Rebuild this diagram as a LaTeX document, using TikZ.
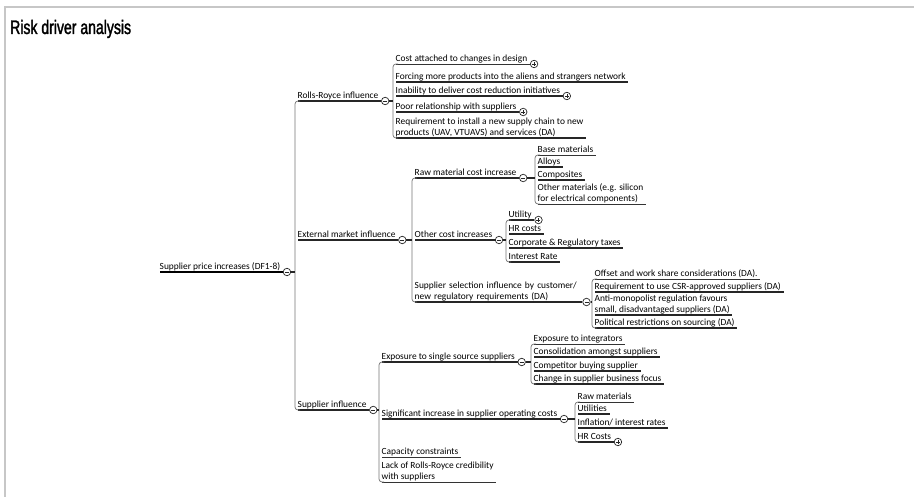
\documentclass[tikz,border=0pt]{standalone}
\usepackage{fontspec}
\newfontfamily\mapfont{Carlito}
\newfontfamily\titlefont[FakeStretch=0.72,FakeBold=1.6]{Liberation Sans}
\usetikzlibrary{calc}

\begin{document}
\begin{tikzpicture}[
    x=1pt, y=-1pt,
    topic/.style={anchor=south west, inner xsep=2.5pt, inner ysep=0pt, align=left, font=\mapfont\fontsize{9.4}{10.5}\selectfont, execute at end node={\vrule width 0pt height 0pt depth 2.6pt}},
    uline/.style={line width=1.1pt, draw=black!85},
    thinline/.style={line width=0.6pt, draw=black!80},
    rootline/.style={line width=1.5pt, draw=black},
    bracket/.style={line width=0.7pt, draw=black!55, rounded corners=3pt},
    link/.style={line width=1.1pt, draw=black!85},
    frame/.style={line width=2pt, draw=black!22},
    marker/.style={circle, draw=black!85, line width=0.7pt, fill=white, inner sep=0pt, minimum size=7.5pt, anchor=west},
    openmark/.style={marker, path picture={\draw[line width=0.6pt] ([xshift=-2pt]path picture bounding box.center) -- ([xshift=2pt]path picture bounding box.center);}},
    shutmark/.style={marker, path picture={\draw[line width=0.6pt] ([xshift=-2pt]path picture bounding box.center) -- ([xshift=2pt]path picture bounding box.center) ([yshift=-2pt]path picture bounding box.center) -- ([yshift=2pt]path picture bounding box.center);}},
]
\useasboundingbox (0,0) rectangle (914,497);
\draw[frame] (5,497) |- (914,7);
\node[anchor=base west, inner sep=0pt, font=\titlefont\fontsize{19.5}{20}\selectfont] (title) at (10,34) {Risk driver analysis};

% Central topic and its three branches
\node[topic] (root) at (157,272) {Supplier price increases (DF1-8)};
\node[topic] (rr)  at (295,101) {Rolls-Royce influence};
\node[topic] (ext) at (295,240) {External market influence};
\node[topic] (sup) at (295,410) {Supplier influence};

% Rolls-Royce influence
\node[topic] (design)      at (393,64)  {Cost attached to changes in design};
\node[topic] (aliens)      at (393,82)  {Forcing more products into the aliens and strangers network};
\node[topic] (initiatives) at (393,96)  {Inability to deliver cost reduction initiatives};
\node[topic] (relation)    at (393,112) {Poor relationship with suppliers};
\node[topic] (newchain)    at (393,138) {Requirement to install a new supply chain to new\\products (UAV, VTUAVS) and services (DA)};

% External market influence
\node[topic] (rawcost)   at (412,178) {Raw material cost increase};
\node[topic] (othercost) at (412,240) {Other cost increases};
\node[topic, text width=165pt] (selection) at (412,302) {Supplier selection influence by customer/\\new regulatory requirements (DA)};

\node[topic] (basemat)    at (535,155) {Base materials};
\node[topic] (alloys)     at (535,167) {Alloys};
\node[topic] (composites) at (535,180) {Composites};
\node[topic] (othermat)   at (535,204) {Other materials (e.g. silicon\\for electrical components)};

\node[topic] (utility)  at (506,220) {Utility};
\node[topic] (hrcosts)  at (506,234) {HR costs};
\node[topic] (taxes)    at (506,248) {Corporate \& Regulatory taxes};
\node[topic] (interest) at (506,262) {Interest Rate};

\node[topic] (offset)    at (592,279) {Offset and work share considerations (DA).};
\node[topic] (csr)       at (592,292) {Requirement to use CSR-approved suppliers (DA)};
\node[topic] (antimono)  at (592,315) {Anti-monopolist regulation favours\\small, disadvantaged suppliers (DA)};
\node[topic] (political) at (592,328) {Political restrictions on sourcing (DA)};

% Supplier influence
\node[topic] (single)      at (379,362) {Exposure to single source suppliers};
\node[topic] (opcosts)     at (379,419) {Significant increase in supplier operating costs};
\node[topic] (capacity)    at (379,457) {Capacity constraints};
\node[topic] (credibility) at (379,482) {Lack of Rolls-Royce credibility\\with suppliers};

\node[topic] (integrators)   at (531,344) {Exposure to integrators};
\node[topic] (consolidation) at (531,357) {Consolidation amongst suppliers};
\node[topic] (competitor)    at (531,371) {Competitor buying supplier};
\node[topic] (focus)         at (531,384) {Change in supplier business focus};

\node[topic] (rawmat)     at (575,402) {Raw materials};
\node[topic] (utilities)  at (575,414) {Utilities};
\node[topic] (inflation)  at (575,428) {Inflation/ interest rates};
\node[topic] (staffcosts) at (575,442) {HR Costs};

% Underlines
\draw[rootline] ([xshift=3pt]root.south west) -- (root.south east);
\foreach \n in {rr,ext,sup,aliens,initiatives,relation,newchain,rawcost,othercost,selection,alloys,composites,utility,hrcosts,taxes,interest,csr,antimono,political,single,opcosts,consolidation,competitor,focus,utilities,inflation,staffcosts}
    \draw[uline] ([xshift=3pt]\n.south west) -- (\n.south east);
\foreach \n in {design,basemat,othermat,offset,integrators,rawmat,capacity,credibility}
    \draw[thinline] ([xshift=3pt]\n.south west) -- (\n.south east);

% Brackets: parent marker -> first child ... last child
\foreach \p/\a/\b in {root/rr/sup, rr/design/newchain, ext/rawcost/selection, rawcost/basemat/othermat, othercost/utility/interest, selection/offset/political, sup/single/credibility, single/integrators/focus, opcosts/rawmat/staffcosts} {
    \draw[bracket] ([xshift=5pt]\a.south west) -- (\a.south west) -- (\b.south west) -- ([xshift=5pt]\b.south west);
    \node[openmark] (\p-m) at (\p.south east) {};
    \draw[link] (\p-m.east) -- (\p-m.east -| \a.west);
}

% Collapsed topics
\foreach \n in {design,initiatives,relation,utility,staffcosts}
    \node[shutmark] (\n-m) at (\n.south east) {};
\end{tikzpicture}
\end{document}
